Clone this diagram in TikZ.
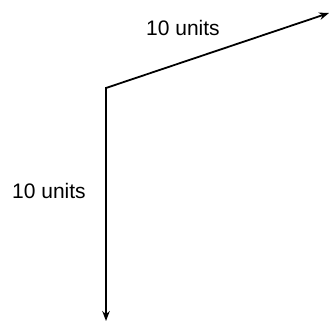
\documentclass[tikz,border=0pt]{standalone}
\usepackage{fontspec}
\setmainfont{Liberation Sans}
\usetikzlibrary{arrows.meta,positioning}

\begin{document}
\begin{tikzpicture}[
    x=1pt, y=1pt,
    vec/.style={line width=1.8pt, -{Stealth[length=10pt, width=7.5pt]}},
    lbl/.style={font=\fontsize{21}{25}\selectfont, inner sep=0pt},
    >=Stealth
]
\useasboundingbox (0,0) rectangle (331,-323);

\coordinate (origin) at (106,-88);
\coordinate (tipr) at (329,-13);
\coordinate (tipd) at (106,-321);

\node[lbl] (lblr) at (183,-28) {10 units};
\node[lbl] (lbld) at (49,-191) {10 units};

\draw[vec] (origin) -- (tipr);
\draw[vec, shorten <=-0.9pt] (origin) -- (tipd);
\end{tikzpicture}
\end{document}
